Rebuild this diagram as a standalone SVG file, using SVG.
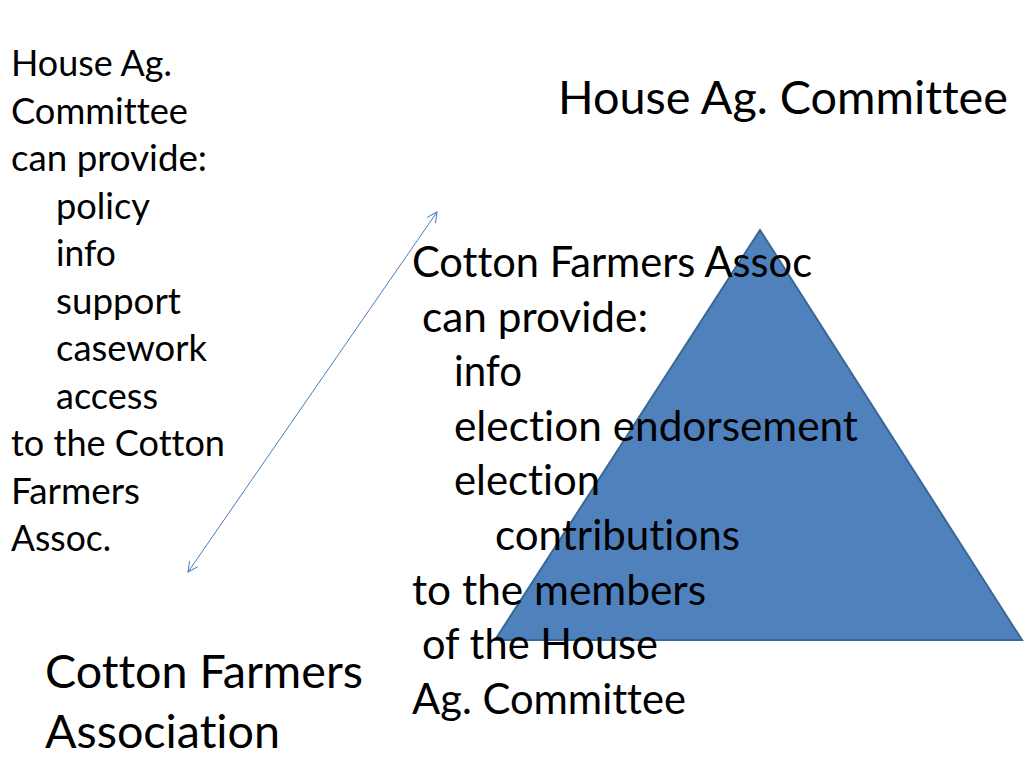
<svg xmlns="http://www.w3.org/2000/svg" width="1024" height="768" viewBox="0 0 1024 768">
<defs>
<style>
text{font-family:Lato,"Open Sans","Liberation Sans",sans-serif;fill:#000;font-variant-ligatures:none;font-feature-settings:"liga" 0,"dlig" 0,"clig" 0}
.s{font-size:37px}
.m{font-size:42px}
.l{font-size:46px}
</style>
<marker id="ah" viewBox="0 0 12 12" refX="11" refY="6" markerWidth="12" markerHeight="12" markerUnits="userSpaceOnUse" orient="auto-start-reverse">
<path d="M1,1 L11,6 L1,11" fill="none" stroke="#4a7ebb" stroke-width="1"/>
</marker>
</defs>
<rect width="1024" height="768" fill="#fff"/>
<g id="triangle">
<polygon points="760,230 495,640 1022,640" fill="#4f81bd" stroke="#3a6896" stroke-width="2"/>
</g>
<g id="connectors">
<line x1="188" y1="572" x2="437" y2="212" stroke="#4a7ebb" stroke-width="1" marker-start="url(#ah)" marker-end="url(#ah)"/>
</g>
<g id="house-provides" class="s">
<text x="11" y="76" textLength="161" lengthAdjust="spacingAndGlyphs">House Ag.</text>
<text x="11" y="123.5" textLength="177" lengthAdjust="spacingAndGlyphs">Committee</text>
<text x="11" y="171" textLength="196" lengthAdjust="spacingAndGlyphs">can provide:</text>
<text x="56" y="218.5" textLength="94" lengthAdjust="spacingAndGlyphs">policy</text>
<text x="56" y="266" textLength="60" lengthAdjust="spacingAndGlyphs">info</text>
<text x="56" y="313.5" textLength="125" lengthAdjust="spacingAndGlyphs">support</text>
<text x="56" y="361" textLength="151" lengthAdjust="spacingAndGlyphs">casework</text>
<text x="56" y="408.5" textLength="102" lengthAdjust="spacingAndGlyphs">access</text>
<text x="11" y="456" textLength="214" lengthAdjust="spacingAndGlyphs">to the Cotton</text>
<text x="11" y="503.5" textLength="129" lengthAdjust="spacingAndGlyphs">Farmers</text>
<text x="11" y="551" textLength="100" lengthAdjust="spacingAndGlyphs">Assoc.</text>
</g>
<g id="house-title" class="l">
<text x="558" y="114" textLength="450" lengthAdjust="spacingAndGlyphs">House Ag. Committee</text>
</g>
<g id="cotton-provides" class="m">
<text x="412" y="277" textLength="400" lengthAdjust="spacingAndGlyphs">Cotton Farmers Assoc</text>
<text x="422" y="331.6" textLength="226" lengthAdjust="spacingAndGlyphs">can provide:</text>
<text x="454" y="386.2" textLength="68" lengthAdjust="spacingAndGlyphs">info</text>
<text x="454" y="440.8" textLength="404" lengthAdjust="spacingAndGlyphs">election endorsement</text>
<text x="454" y="495.4" textLength="146" lengthAdjust="spacingAndGlyphs">election</text>
<text x="495" y="550" textLength="245" lengthAdjust="spacingAndGlyphs">contributions</text>
<text x="412" y="604.6" textLength="294" lengthAdjust="spacingAndGlyphs">to the members</text>
<text x="422" y="659.2" textLength="236" lengthAdjust="spacingAndGlyphs">of the House</text>
<text x="412" y="713.8" textLength="274" lengthAdjust="spacingAndGlyphs">Ag. Committee</text>
</g>
<g id="cotton-title" class="l">
<text x="45" y="688" textLength="318" lengthAdjust="spacingAndGlyphs">Cotton Farmers</text>
<text x="45" y="748" textLength="235" lengthAdjust="spacingAndGlyphs">Association</text>
</g>
</svg>
